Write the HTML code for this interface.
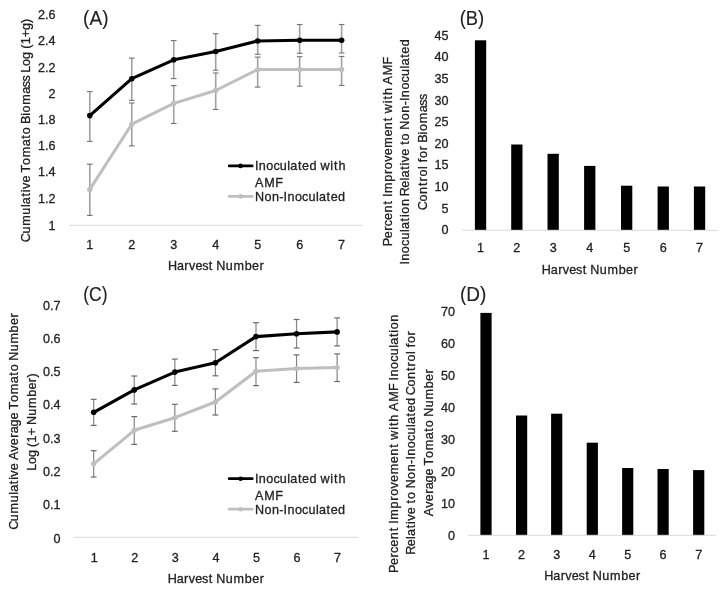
<!DOCTYPE html>
<html><head><meta charset="utf-8"><title>AMF charts</title>
<style>
html,body{margin:0;padding:0;background:#fff;}
body{width:724px;height:591px;overflow:hidden;}
svg{display:block;font-family:"Liberation Sans",sans-serif;-webkit-font-smoothing:antialiased;will-change:transform;}
</style></head>
<body>
<svg width="724" height="591" viewBox="0 0 724 591">
<rect x="0" y="0" width="724" height="591" fill="#fff"/>
<text x="83.12" y="24.70" font-size="19.5" textLength="25.36" lengthAdjust="spacingAndGlyphs" fill="#222222" stroke="#222222" stroke-width="0.1">(A)</text>
<text x="459.76" y="24.60" font-size="19.5" textLength="24.48" lengthAdjust="spacingAndGlyphs" fill="#222222" stroke="#222222" stroke-width="0.1">(B)</text>
<text x="83.22" y="300.50" font-size="19.5" textLength="24.27" lengthAdjust="spacingAndGlyphs" fill="#222222" stroke="#222222" stroke-width="0.1">(C)</text>
<text x="459.92" y="300.70" font-size="19.5" textLength="26.35" lengthAdjust="spacingAndGlyphs" fill="#222222" stroke="#222222" stroke-width="0.1">(D)</text>
<text x="55.60" y="19.20" font-size="12.6" text-anchor="end" fill="#222222" stroke="#222222" stroke-width="0.3">2.6</text>
<text x="55.60" y="45.40" font-size="12.6" text-anchor="end" fill="#222222" stroke="#222222" stroke-width="0.3">2.4</text>
<text x="55.60" y="71.50" font-size="12.6" text-anchor="end" fill="#222222" stroke="#222222" stroke-width="0.3">2.2</text>
<text x="55.60" y="97.80" font-size="12.6" text-anchor="end" fill="#222222" stroke="#222222" stroke-width="0.3">2</text>
<text x="55.60" y="123.90" font-size="12.6" text-anchor="end" fill="#222222" stroke="#222222" stroke-width="0.3">1.8</text>
<text x="55.60" y="150.10" font-size="12.6" text-anchor="end" fill="#222222" stroke="#222222" stroke-width="0.3">1.6</text>
<text x="55.60" y="176.30" font-size="12.6" text-anchor="end" fill="#222222" stroke="#222222" stroke-width="0.3">1.4</text>
<text x="55.60" y="203.40" font-size="12.6" text-anchor="end" fill="#222222" stroke="#222222" stroke-width="0.3">1.2</text>
<text x="55.60" y="229.50" font-size="12.6" text-anchor="end" fill="#222222" stroke="#222222" stroke-width="0.3">1</text>
<line x1="69.00" y1="225.30" x2="362.70" y2="225.30" stroke="#d9d9d9" stroke-width="1"/>
<text x="89.80" y="248.80" font-size="12.6" text-anchor="middle" fill="#222222" stroke="#222222" stroke-width="0.3">1</text>
<text x="131.77" y="248.80" font-size="12.6" text-anchor="middle" fill="#222222" stroke="#222222" stroke-width="0.3">2</text>
<text x="173.74" y="248.80" font-size="12.6" text-anchor="middle" fill="#222222" stroke="#222222" stroke-width="0.3">3</text>
<text x="215.71" y="248.80" font-size="12.6" text-anchor="middle" fill="#222222" stroke="#222222" stroke-width="0.3">4</text>
<text x="257.68" y="248.80" font-size="12.6" text-anchor="middle" fill="#222222" stroke="#222222" stroke-width="0.3">5</text>
<text x="299.65" y="248.80" font-size="12.6" text-anchor="middle" fill="#222222" stroke="#222222" stroke-width="0.3">6</text>
<text x="341.62" y="248.80" font-size="12.6" text-anchor="middle" fill="#222222" stroke="#222222" stroke-width="0.3">7</text>
<text x="168.02 176.97 184.31 189.00 195.45 202.18 208.78 212.81 216.26 225.70 233.45 244.69 252.03 259.50" y="269.60" font-size="12.6" fill="#222222" stroke="#222222" stroke-width="0.3" xml:space="preserve">Harvest Number</text>
<text transform="translate(30.40,241.00) rotate(-90)" x="-1.23 7.41 15.15 26.39 33.91 36.88 44.47 48.86 52.00 58.45 65.39 68.40 76.02 83.78 94.69 102.27 106.70 113.86 116.92 125.27 128.59 136.35 147.26 153.85 159.45 165.28 168.16 174.95 182.11 188.85 192.30 196.70 203.79 210.98 217.93" y="0" font-size="12.6" fill="#222222" stroke="#222222" stroke-width="0.3" xml:space="preserve">Cumulative Tomato Biomass Log (1+g)</text>
<line x1="89.80" y1="164.20" x2="89.80" y2="215.40" stroke="#a0a0a0" stroke-width="1.6"/>
<line x1="87.00" y1="164.20" x2="92.60" y2="164.20" stroke="#727272" stroke-width="1.1"/>
<line x1="87.00" y1="215.40" x2="92.60" y2="215.40" stroke="#727272" stroke-width="1.1"/>
<line x1="131.77" y1="103.00" x2="131.77" y2="145.90" stroke="#a0a0a0" stroke-width="1.6"/>
<line x1="128.97" y1="103.00" x2="134.57" y2="103.00" stroke="#727272" stroke-width="1.1"/>
<line x1="128.97" y1="145.90" x2="134.57" y2="145.90" stroke="#727272" stroke-width="1.1"/>
<line x1="173.74" y1="85.60" x2="173.74" y2="123.50" stroke="#a0a0a0" stroke-width="1.6"/>
<line x1="170.94" y1="85.60" x2="176.54" y2="85.60" stroke="#727272" stroke-width="1.1"/>
<line x1="170.94" y1="123.50" x2="176.54" y2="123.50" stroke="#727272" stroke-width="1.1"/>
<line x1="215.71" y1="73.00" x2="215.71" y2="109.50" stroke="#a0a0a0" stroke-width="1.6"/>
<line x1="212.91" y1="73.00" x2="218.51" y2="73.00" stroke="#727272" stroke-width="1.1"/>
<line x1="212.91" y1="109.50" x2="218.51" y2="109.50" stroke="#727272" stroke-width="1.1"/>
<line x1="257.68" y1="57.10" x2="257.68" y2="87.10" stroke="#a0a0a0" stroke-width="1.6"/>
<line x1="254.88" y1="57.10" x2="260.48" y2="57.10" stroke="#727272" stroke-width="1.1"/>
<line x1="254.88" y1="87.10" x2="260.48" y2="87.10" stroke="#727272" stroke-width="1.1"/>
<line x1="299.65" y1="56.70" x2="299.65" y2="86.20" stroke="#a0a0a0" stroke-width="1.6"/>
<line x1="296.85" y1="56.70" x2="302.45" y2="56.70" stroke="#727272" stroke-width="1.1"/>
<line x1="296.85" y1="86.20" x2="302.45" y2="86.20" stroke="#727272" stroke-width="1.1"/>
<line x1="341.62" y1="56.40" x2="341.62" y2="85.40" stroke="#a0a0a0" stroke-width="1.6"/>
<line x1="338.82" y1="56.40" x2="344.42" y2="56.40" stroke="#727272" stroke-width="1.1"/>
<line x1="338.82" y1="85.40" x2="344.42" y2="85.40" stroke="#727272" stroke-width="1.1"/>
<line x1="89.80" y1="91.60" x2="89.80" y2="141.40" stroke="#a0a0a0" stroke-width="1.6"/>
<line x1="87.00" y1="91.60" x2="92.60" y2="91.60" stroke="#727272" stroke-width="1.1"/>
<line x1="87.00" y1="141.40" x2="92.60" y2="141.40" stroke="#727272" stroke-width="1.1"/>
<line x1="131.77" y1="58.10" x2="131.77" y2="100.40" stroke="#a0a0a0" stroke-width="1.6"/>
<line x1="128.97" y1="58.10" x2="134.57" y2="58.10" stroke="#727272" stroke-width="1.1"/>
<line x1="128.97" y1="100.40" x2="134.57" y2="100.40" stroke="#727272" stroke-width="1.1"/>
<line x1="173.74" y1="40.60" x2="173.74" y2="78.60" stroke="#a0a0a0" stroke-width="1.6"/>
<line x1="170.94" y1="40.60" x2="176.54" y2="40.60" stroke="#727272" stroke-width="1.1"/>
<line x1="170.94" y1="78.60" x2="176.54" y2="78.60" stroke="#727272" stroke-width="1.1"/>
<line x1="215.71" y1="33.70" x2="215.71" y2="70.20" stroke="#a0a0a0" stroke-width="1.6"/>
<line x1="212.91" y1="33.70" x2="218.51" y2="33.70" stroke="#727272" stroke-width="1.1"/>
<line x1="212.91" y1="70.20" x2="218.51" y2="70.20" stroke="#727272" stroke-width="1.1"/>
<line x1="257.68" y1="25.40" x2="257.68" y2="54.30" stroke="#a0a0a0" stroke-width="1.6"/>
<line x1="254.88" y1="25.40" x2="260.48" y2="25.40" stroke="#727272" stroke-width="1.1"/>
<line x1="254.88" y1="54.30" x2="260.48" y2="54.30" stroke="#727272" stroke-width="1.1"/>
<line x1="299.65" y1="24.50" x2="299.65" y2="53.30" stroke="#a0a0a0" stroke-width="1.6"/>
<line x1="296.85" y1="24.50" x2="302.45" y2="24.50" stroke="#727272" stroke-width="1.1"/>
<line x1="296.85" y1="53.30" x2="302.45" y2="53.30" stroke="#727272" stroke-width="1.1"/>
<line x1="341.62" y1="24.50" x2="341.62" y2="53.00" stroke="#a0a0a0" stroke-width="1.6"/>
<line x1="338.82" y1="24.50" x2="344.42" y2="24.50" stroke="#727272" stroke-width="1.1"/>
<line x1="338.82" y1="53.00" x2="344.42" y2="53.00" stroke="#727272" stroke-width="1.1"/>
<polyline points="89.80,189.40 131.77,124.20 173.74,103.40 215.71,90.50 257.68,69.60 299.65,69.40 341.62,69.40" fill="none" stroke="#bfbfbf" stroke-width="3.0" stroke-linejoin="round" stroke-linecap="round"/>
<circle cx="89.80" cy="189.40" r="2.7" fill="#bfbfbf"/>
<circle cx="131.77" cy="124.20" r="2.7" fill="#bfbfbf"/>
<circle cx="173.74" cy="103.40" r="2.7" fill="#bfbfbf"/>
<circle cx="215.71" cy="90.50" r="2.7" fill="#bfbfbf"/>
<circle cx="257.68" cy="69.60" r="2.7" fill="#bfbfbf"/>
<circle cx="299.65" cy="69.40" r="2.7" fill="#bfbfbf"/>
<circle cx="341.62" cy="69.40" r="2.7" fill="#bfbfbf"/>
<polyline points="89.80,115.60 131.77,78.70 173.74,59.80 215.71,51.50 257.68,41.00 299.65,40.30 341.62,40.20" fill="none" stroke="#000000" stroke-width="3.1" stroke-linejoin="round" stroke-linecap="round"/>
<circle cx="89.80" cy="115.60" r="2.8" fill="#000000"/>
<circle cx="131.77" cy="78.70" r="2.8" fill="#000000"/>
<circle cx="173.74" cy="59.80" r="2.8" fill="#000000"/>
<circle cx="215.71" cy="51.50" r="2.8" fill="#000000"/>
<circle cx="257.68" cy="41.00" r="2.8" fill="#000000"/>
<circle cx="299.65" cy="40.30" r="2.8" fill="#000000"/>
<circle cx="341.62" cy="40.20" r="2.8" fill="#000000"/>
<line x1="229.2" y1="165.90" x2="252.2" y2="165.90" stroke="#000000" stroke-width="2.8" stroke-linecap="round"/>
<circle cx="240.6" cy="165.90" r="2.3" fill="#000000"/>
<line x1="229.2" y1="196.40" x2="252.2" y2="196.40" stroke="#bfbfbf" stroke-width="2.8" stroke-linecap="round"/>
<circle cx="240.6" cy="196.40" r="2.3" fill="#bfbfbf"/>
<text x="254.95 258.76 266.28 273.43 279.85 287.36 290.32 297.89 302.09 309.40 316.53 320.46 330.36 334.04 338.44" y="169.80" font-size="12.6" fill="#222222" stroke="#222222" stroke-width="0.3" xml:space="preserve">Inoculated with</text>
<text x="254.92 264.32 275.30" y="187.30" font-size="12.6" fill="#222222" stroke="#222222" stroke-width="0.3" xml:space="preserve">AMF</text>
<text x="254.96 264.39 271.92 279.27 283.60 287.41 294.93 302.08 308.50 316.00 318.96 326.53 330.73 338.04" y="200.80" font-size="12.6" fill="#222222" stroke="#222222" stroke-width="0.3" xml:space="preserve">Non-Inoculated</text>
<text x="60.50" y="309.50" font-size="12.6" text-anchor="end" fill="#222222" stroke="#222222" stroke-width="0.3">0.7</text>
<text x="60.50" y="342.81" font-size="12.6" text-anchor="end" fill="#222222" stroke="#222222" stroke-width="0.3">0.6</text>
<text x="60.50" y="376.12" font-size="12.6" text-anchor="end" fill="#222222" stroke="#222222" stroke-width="0.3">0.5</text>
<text x="60.50" y="409.43" font-size="12.6" text-anchor="end" fill="#222222" stroke="#222222" stroke-width="0.3">0.4</text>
<text x="60.50" y="442.74" font-size="12.6" text-anchor="end" fill="#222222" stroke="#222222" stroke-width="0.3">0.3</text>
<text x="60.50" y="476.05" font-size="12.6" text-anchor="end" fill="#222222" stroke="#222222" stroke-width="0.3">0.2</text>
<text x="60.50" y="509.36" font-size="12.6" text-anchor="end" fill="#222222" stroke="#222222" stroke-width="0.3">0.1</text>
<text x="60.50" y="542.67" font-size="12.6" text-anchor="end" fill="#222222" stroke="#222222" stroke-width="0.3">0</text>
<line x1="74.40" y1="537.30" x2="357.60" y2="537.30" stroke="#d9d9d9" stroke-width="1"/>
<text x="94.20" y="561.50" font-size="12.6" text-anchor="middle" fill="#222222" stroke="#222222" stroke-width="0.3">1</text>
<text x="134.77" y="561.50" font-size="12.6" text-anchor="middle" fill="#222222" stroke="#222222" stroke-width="0.3">2</text>
<text x="175.34" y="561.50" font-size="12.6" text-anchor="middle" fill="#222222" stroke="#222222" stroke-width="0.3">3</text>
<text x="215.91" y="561.50" font-size="12.6" text-anchor="middle" fill="#222222" stroke="#222222" stroke-width="0.3">4</text>
<text x="256.48" y="561.50" font-size="12.6" text-anchor="middle" fill="#222222" stroke="#222222" stroke-width="0.3">5</text>
<text x="297.05" y="561.50" font-size="12.6" text-anchor="middle" fill="#222222" stroke="#222222" stroke-width="0.3">6</text>
<text x="337.62" y="561.50" font-size="12.6" text-anchor="middle" fill="#222222" stroke="#222222" stroke-width="0.3">7</text>
<text x="167.74 176.73 184.10 188.82 195.31 202.07 208.70 212.75 216.23 225.72 233.52 244.81 252.18 259.69" y="583.00" font-size="12.6" fill="#222222" stroke="#222222" stroke-width="0.3" xml:space="preserve">Harvest Number</text>
<text transform="translate(17.60,528.60) rotate(-90)" x="-1.24 7.38 15.11 26.33 33.84 36.80 44.38 48.77 51.89 58.33 65.26 68.56 76.98 83.42 90.88 95.40 102.19 109.12 116.05 119.05 126.66 134.40 145.29 152.86 157.28 164.42 167.86 177.28 185.01 196.23 203.55 211.01" y="0" font-size="12.6" fill="#222222" stroke="#222222" stroke-width="0.3" xml:space="preserve">Cumulative Average Tomato Number</text>
<text transform="translate(35.50,469.80) rotate(-90)" x="-1.02 5.71 12.79 19.49 22.90 27.25 34.27 41.40 44.79 54.15 61.80 72.95 80.21 87.62 92.25" y="0" font-size="12.6" fill="#222222" stroke="#222222" stroke-width="0.3" xml:space="preserve">Log (1+ Number)</text>
<line x1="93.70" y1="450.70" x2="93.70" y2="477.00" stroke="#858585" stroke-width="1.2"/>
<line x1="90.80" y1="450.70" x2="96.60" y2="450.70" stroke="#6a6a6a" stroke-width="1.2"/>
<line x1="90.80" y1="477.00" x2="96.60" y2="477.00" stroke="#6a6a6a" stroke-width="1.2"/>
<line x1="134.27" y1="416.60" x2="134.27" y2="444.40" stroke="#858585" stroke-width="1.2"/>
<line x1="131.37" y1="416.60" x2="137.17" y2="416.60" stroke="#6a6a6a" stroke-width="1.2"/>
<line x1="131.37" y1="444.40" x2="137.17" y2="444.40" stroke="#6a6a6a" stroke-width="1.2"/>
<line x1="174.84" y1="404.30" x2="174.84" y2="431.30" stroke="#858585" stroke-width="1.2"/>
<line x1="171.94" y1="404.30" x2="177.74" y2="404.30" stroke="#6a6a6a" stroke-width="1.2"/>
<line x1="171.94" y1="431.30" x2="177.74" y2="431.30" stroke="#6a6a6a" stroke-width="1.2"/>
<line x1="215.41" y1="388.90" x2="215.41" y2="415.00" stroke="#858585" stroke-width="1.2"/>
<line x1="212.51" y1="388.90" x2="218.31" y2="388.90" stroke="#6a6a6a" stroke-width="1.2"/>
<line x1="212.51" y1="415.00" x2="218.31" y2="415.00" stroke="#6a6a6a" stroke-width="1.2"/>
<line x1="255.98" y1="357.70" x2="255.98" y2="385.60" stroke="#858585" stroke-width="1.2"/>
<line x1="253.08" y1="357.70" x2="258.88" y2="357.70" stroke="#6a6a6a" stroke-width="1.2"/>
<line x1="253.08" y1="385.60" x2="258.88" y2="385.60" stroke="#6a6a6a" stroke-width="1.2"/>
<line x1="296.55" y1="354.90" x2="296.55" y2="382.40" stroke="#858585" stroke-width="1.2"/>
<line x1="293.65" y1="354.90" x2="299.45" y2="354.90" stroke="#6a6a6a" stroke-width="1.2"/>
<line x1="293.65" y1="382.40" x2="299.45" y2="382.40" stroke="#6a6a6a" stroke-width="1.2"/>
<line x1="337.12" y1="353.90" x2="337.12" y2="381.50" stroke="#858585" stroke-width="1.2"/>
<line x1="334.22" y1="353.90" x2="340.02" y2="353.90" stroke="#6a6a6a" stroke-width="1.2"/>
<line x1="334.22" y1="381.50" x2="340.02" y2="381.50" stroke="#6a6a6a" stroke-width="1.2"/>
<line x1="93.70" y1="399.30" x2="93.70" y2="425.40" stroke="#858585" stroke-width="1.2"/>
<line x1="90.80" y1="399.30" x2="96.60" y2="399.30" stroke="#6a6a6a" stroke-width="1.2"/>
<line x1="90.80" y1="425.40" x2="96.60" y2="425.40" stroke="#6a6a6a" stroke-width="1.2"/>
<line x1="134.27" y1="376.00" x2="134.27" y2="404.00" stroke="#858585" stroke-width="1.2"/>
<line x1="131.37" y1="376.00" x2="137.17" y2="376.00" stroke="#6a6a6a" stroke-width="1.2"/>
<line x1="131.37" y1="404.00" x2="137.17" y2="404.00" stroke="#6a6a6a" stroke-width="1.2"/>
<line x1="174.84" y1="359.10" x2="174.84" y2="385.40" stroke="#858585" stroke-width="1.2"/>
<line x1="171.94" y1="359.10" x2="177.74" y2="359.10" stroke="#6a6a6a" stroke-width="1.2"/>
<line x1="171.94" y1="385.40" x2="177.74" y2="385.40" stroke="#6a6a6a" stroke-width="1.2"/>
<line x1="215.41" y1="349.70" x2="215.41" y2="375.80" stroke="#858585" stroke-width="1.2"/>
<line x1="212.51" y1="349.70" x2="218.31" y2="349.70" stroke="#6a6a6a" stroke-width="1.2"/>
<line x1="212.51" y1="375.80" x2="218.31" y2="375.80" stroke="#6a6a6a" stroke-width="1.2"/>
<line x1="255.98" y1="322.70" x2="255.98" y2="350.60" stroke="#858585" stroke-width="1.2"/>
<line x1="253.08" y1="322.70" x2="258.88" y2="322.70" stroke="#6a6a6a" stroke-width="1.2"/>
<line x1="253.08" y1="350.60" x2="258.88" y2="350.60" stroke="#6a6a6a" stroke-width="1.2"/>
<line x1="296.55" y1="319.50" x2="296.55" y2="348.00" stroke="#858585" stroke-width="1.2"/>
<line x1="293.65" y1="319.50" x2="299.45" y2="319.50" stroke="#6a6a6a" stroke-width="1.2"/>
<line x1="293.65" y1="348.00" x2="299.45" y2="348.00" stroke="#6a6a6a" stroke-width="1.2"/>
<line x1="337.12" y1="317.90" x2="337.12" y2="345.90" stroke="#858585" stroke-width="1.2"/>
<line x1="334.22" y1="317.90" x2="340.02" y2="317.90" stroke="#6a6a6a" stroke-width="1.2"/>
<line x1="334.22" y1="345.90" x2="340.02" y2="345.90" stroke="#6a6a6a" stroke-width="1.2"/>
<polyline points="93.70,463.80 134.27,430.30 174.84,417.70 215.41,402.00 255.98,371.30 296.55,368.60 337.12,367.60" fill="none" stroke="#bfbfbf" stroke-width="3.0" stroke-linejoin="round" stroke-linecap="round"/>
<circle cx="93.70" cy="463.80" r="2.7" fill="#bfbfbf"/>
<circle cx="134.27" cy="430.30" r="2.7" fill="#bfbfbf"/>
<circle cx="174.84" cy="417.70" r="2.7" fill="#bfbfbf"/>
<circle cx="215.41" cy="402.00" r="2.7" fill="#bfbfbf"/>
<circle cx="255.98" cy="371.30" r="2.7" fill="#bfbfbf"/>
<circle cx="296.55" cy="368.60" r="2.7" fill="#bfbfbf"/>
<circle cx="337.12" cy="367.60" r="2.7" fill="#bfbfbf"/>
<polyline points="93.70,412.30 134.27,389.90 174.84,372.10 215.41,362.70 255.98,336.60 296.55,333.70 337.12,331.90" fill="none" stroke="#000000" stroke-width="3.1" stroke-linejoin="round" stroke-linecap="round"/>
<circle cx="93.70" cy="412.30" r="2.8" fill="#000000"/>
<circle cx="134.27" cy="389.90" r="2.8" fill="#000000"/>
<circle cx="174.84" cy="372.10" r="2.8" fill="#000000"/>
<circle cx="215.41" cy="362.70" r="2.8" fill="#000000"/>
<circle cx="255.98" cy="336.60" r="2.8" fill="#000000"/>
<circle cx="296.55" cy="333.70" r="2.8" fill="#000000"/>
<circle cx="337.12" cy="331.90" r="2.8" fill="#000000"/>
<line x1="229.2" y1="478.70" x2="252.2" y2="478.70" stroke="#000000" stroke-width="2.8" stroke-linecap="round"/>
<circle cx="240.6" cy="478.70" r="2.3" fill="#000000"/>
<line x1="229.2" y1="509.20" x2="252.2" y2="509.20" stroke="#bfbfbf" stroke-width="2.8" stroke-linecap="round"/>
<circle cx="240.6" cy="509.20" r="2.3" fill="#bfbfbf"/>
<text x="254.95 258.76 266.28 273.43 279.85 287.36 290.32 297.89 302.09 309.40 316.53 320.46 330.36 334.04 338.44" y="482.60" font-size="12.6" fill="#222222" stroke="#222222" stroke-width="0.3" xml:space="preserve">Inoculated with</text>
<text x="254.92 264.32 275.30" y="500.10" font-size="12.6" fill="#222222" stroke="#222222" stroke-width="0.3" xml:space="preserve">AMF</text>
<text x="254.96 264.39 271.92 279.27 283.60 287.41 294.93 302.08 308.50 316.00 318.96 326.53 330.73 338.04" y="513.60" font-size="12.6" fill="#222222" stroke="#222222" stroke-width="0.3" xml:space="preserve">Non-Inoculated</text>
<text x="448.60" y="39.80" font-size="12.6" text-anchor="end" fill="#222222" stroke="#222222" stroke-width="0.3">45</text>
<text x="448.60" y="61.40" font-size="12.6" text-anchor="end" fill="#222222" stroke="#222222" stroke-width="0.3">40</text>
<text x="448.60" y="83.00" font-size="12.6" text-anchor="end" fill="#222222" stroke="#222222" stroke-width="0.3">35</text>
<text x="448.60" y="104.60" font-size="12.6" text-anchor="end" fill="#222222" stroke="#222222" stroke-width="0.3">30</text>
<text x="448.60" y="126.20" font-size="12.6" text-anchor="end" fill="#222222" stroke="#222222" stroke-width="0.3">25</text>
<text x="448.60" y="147.80" font-size="12.6" text-anchor="end" fill="#222222" stroke="#222222" stroke-width="0.3">20</text>
<text x="448.60" y="169.40" font-size="12.6" text-anchor="end" fill="#222222" stroke="#222222" stroke-width="0.3">15</text>
<text x="448.60" y="191.00" font-size="12.6" text-anchor="end" fill="#222222" stroke="#222222" stroke-width="0.3">10</text>
<text x="448.60" y="212.60" font-size="12.6" text-anchor="end" fill="#222222" stroke="#222222" stroke-width="0.3">5</text>
<text x="448.60" y="234.20" font-size="12.6" text-anchor="end" fill="#222222" stroke="#222222" stroke-width="0.3">0</text>
<rect x="474.9" y="40.3" width="11.3" height="189.7" fill="#000"/>
<rect x="511.2" y="144.5" width="11.3" height="85.5" fill="#000"/>
<rect x="547.5" y="153.8" width="11.3" height="76.2" fill="#000"/>
<rect x="584.1" y="165.9" width="11.3" height="64.1" fill="#000"/>
<rect x="621.0" y="185.7" width="11.3" height="44.3" fill="#000"/>
<rect x="657.6" y="186.5" width="11.3" height="43.5" fill="#000"/>
<rect x="693.9" y="186.5" width="11.3" height="43.5" fill="#000"/>
<line x1="462.50" y1="230.30" x2="717.90" y2="230.30" stroke="#d9d9d9" stroke-width="1"/>
<text x="480.55" y="252.40" font-size="12.6" text-anchor="middle" fill="#222222" stroke="#222222" stroke-width="0.3">1</text>
<text x="516.85" y="252.40" font-size="12.6" text-anchor="middle" fill="#222222" stroke="#222222" stroke-width="0.3">2</text>
<text x="553.15" y="252.40" font-size="12.6" text-anchor="middle" fill="#222222" stroke="#222222" stroke-width="0.3">3</text>
<text x="589.75" y="252.40" font-size="12.6" text-anchor="middle" fill="#222222" stroke="#222222" stroke-width="0.3">4</text>
<text x="626.65" y="252.40" font-size="12.6" text-anchor="middle" fill="#222222" stroke="#222222" stroke-width="0.3">5</text>
<text x="663.25" y="252.40" font-size="12.6" text-anchor="middle" fill="#222222" stroke="#222222" stroke-width="0.3">6</text>
<text x="699.55" y="252.40" font-size="12.6" text-anchor="middle" fill="#222222" stroke="#222222" stroke-width="0.3">7</text>
<text x="541.83 550.81 558.17 562.87 569.35 576.09 582.71 586.75 590.22 599.69 607.47 618.74 626.10 633.59" y="274.10" font-size="12.6" fill="#222222" stroke="#222222" stroke-width="0.3" xml:space="preserve">Harvest Number</text>
<text transform="translate(391.60,245.20) rotate(-90)" x="-0.98 7.02 14.52 19.03 25.30 32.67 40.62 44.67 48.11 52.18 63.46 71.16 76.07 83.47 89.96 97.55 108.63 116.00 123.95 127.99 131.97 141.92 145.64 150.08 157.25 160.59 169.87 180.74" y="0" font-size="12.6" fill="#222222" stroke="#222222" stroke-width="0.3" xml:space="preserve">Percent Improvement with AMF</text>
<text transform="translate(409.20,264.10) rotate(-90)" x="-0.44 3.39 10.95 18.13 24.58 32.11 35.09 42.69 47.10 50.43 57.99 65.14 67.87 76.39 83.71 86.70 94.30 98.70 101.84 108.31 115.26 119.29 123.73 130.89 134.35 143.82 151.38 158.76 163.11 166.94 174.51 181.68 188.14 195.67 198.65 206.25 210.48 217.82" y="0" font-size="12.6" fill="#222222" stroke="#222222" stroke-width="0.3" xml:space="preserve">Inoculation Relative to Non-Inoculated</text>
<text transform="translate(427.00,209.00) rotate(-90)" x="-1.21 7.46 15.04 22.98 27.55 32.44 39.99 42.92 46.74 50.98 58.69 63.17 66.25 74.62 77.96 85.76 96.70 103.31 108.94" y="0" font-size="12.6" fill="#222222" stroke="#222222" stroke-width="0.3" xml:space="preserve">Control for Biomass</text>
<text x="454.90" y="315.90" font-size="12.6" text-anchor="end" fill="#222222" stroke="#222222" stroke-width="0.3">70</text>
<text x="454.90" y="347.90" font-size="12.6" text-anchor="end" fill="#222222" stroke="#222222" stroke-width="0.3">60</text>
<text x="454.90" y="379.90" font-size="12.6" text-anchor="end" fill="#222222" stroke="#222222" stroke-width="0.3">50</text>
<text x="454.90" y="411.90" font-size="12.6" text-anchor="end" fill="#222222" stroke="#222222" stroke-width="0.3">40</text>
<text x="454.90" y="443.90" font-size="12.6" text-anchor="end" fill="#222222" stroke="#222222" stroke-width="0.3">30</text>
<text x="454.90" y="475.90" font-size="12.6" text-anchor="end" fill="#222222" stroke="#222222" stroke-width="0.3">20</text>
<text x="454.90" y="507.90" font-size="12.6" text-anchor="end" fill="#222222" stroke="#222222" stroke-width="0.3">10</text>
<text x="454.90" y="539.90" font-size="12.6" text-anchor="end" fill="#222222" stroke="#222222" stroke-width="0.3">0</text>
<rect x="480.4" y="312.9" width="11.2" height="222.4" fill="#000"/>
<rect x="516.0" y="415.5" width="11.2" height="119.8" fill="#000"/>
<rect x="551.1" y="413.7" width="11.2" height="121.6" fill="#000"/>
<rect x="586.7" y="442.7" width="11.2" height="92.6" fill="#000"/>
<rect x="622.1" y="468.0" width="11.2" height="67.3" fill="#000"/>
<rect x="657.5" y="469.0" width="11.2" height="66.3" fill="#000"/>
<rect x="693.1" y="470.1" width="11.2" height="65.2" fill="#000"/>
<line x1="467.90" y1="535.30" x2="716.40" y2="535.30" stroke="#d9d9d9" stroke-width="1"/>
<text x="486.00" y="558.80" font-size="12.6" text-anchor="middle" fill="#222222" stroke="#222222" stroke-width="0.3">1</text>
<text x="521.60" y="558.80" font-size="12.6" text-anchor="middle" fill="#222222" stroke="#222222" stroke-width="0.3">2</text>
<text x="556.70" y="558.80" font-size="12.6" text-anchor="middle" fill="#222222" stroke="#222222" stroke-width="0.3">3</text>
<text x="592.30" y="558.80" font-size="12.6" text-anchor="middle" fill="#222222" stroke="#222222" stroke-width="0.3">4</text>
<text x="627.70" y="558.80" font-size="12.6" text-anchor="middle" fill="#222222" stroke="#222222" stroke-width="0.3">5</text>
<text x="663.10" y="558.80" font-size="12.6" text-anchor="middle" fill="#222222" stroke="#222222" stroke-width="0.3">6</text>
<text x="698.70" y="558.80" font-size="12.6" text-anchor="middle" fill="#222222" stroke="#222222" stroke-width="0.3">7</text>
<text x="544.33 553.31 560.67 565.37 571.85 578.59 585.21 589.25 592.72 602.19 609.97 621.24 628.60 636.09" y="579.90" font-size="12.6" fill="#222222" stroke="#222222" stroke-width="0.3" xml:space="preserve">Harvest Number</text>
<text transform="translate(397.80,572.00) rotate(-90)" x="-0.97 7.04 14.56 19.07 25.36 32.74 40.70 44.75 48.20 52.29 63.59 71.30 76.22 83.64 90.13 97.74 108.84 116.23 124.19 128.24 132.23 142.19 145.92 150.37 157.55 160.90 170.20 181.09 188.13 191.58 195.44 203.04 210.25 216.74 224.29 227.30 234.93 239.35 242.71 250.30" y="0" font-size="12.6" fill="#222222" stroke="#222222" stroke-width="0.3" xml:space="preserve">Percent Improvement with AMF Inoculation</text>
<text transform="translate(415.00,553.60) rotate(-90)" x="-1.15 7.36 14.68 17.66 25.25 29.65 32.79 39.25 46.19 50.22 54.65 61.81 65.27 74.73 82.28 89.65 94.01 97.83 105.38 112.55 119.00 126.53 129.50 137.10 141.32 148.66 155.80 158.45 167.11 174.66 182.59 187.15 192.02 199.56 202.48 206.29 210.51 218.20" y="0" font-size="12.6" fill="#222222" stroke="#222222" stroke-width="0.3" xml:space="preserve">Relative to Non-Inoculated Control for</text>
<text transform="translate(432.80,515.70) rotate(-90)" x="-0.55 7.89 14.35 21.83 26.36 33.17 40.12 47.07 50.09 57.71 65.48 76.39 83.99 88.42 95.58 99.03 108.48 116.24 127.48 134.82 142.30" y="0" font-size="12.6" fill="#222222" stroke="#222222" stroke-width="0.3" xml:space="preserve">Average Tomato Number</text>
</svg>
</body></html>
